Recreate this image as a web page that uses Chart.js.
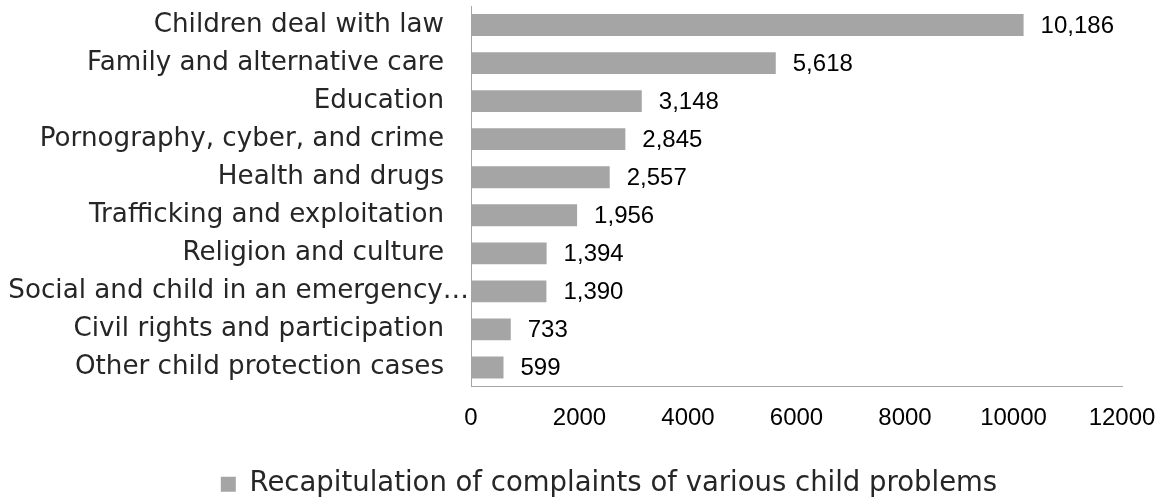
<!DOCTYPE html>
<html>
<head>
<meta charset="utf-8">
<script src="https://cdn.jsdelivr.net/npm/chart.js@4/dist/chart.umd.min.js"></script>
<style>
  html, body { margin: 0; padding: 0; background: #ffffff; }
  #wrap { width: 1164px; height: 502px; position: relative; }
</style>
</head>
<body>
<div id="wrap"><canvas id="c" width="1164" height="502"></canvas></div>
<script>
const categories = [
  "Children deal with law",
  "Family and alternative care",
  "Education",
  "Pornography, cyber, and crime",
  "Health and drugs",
  "Trafficking and exploitation",
  "Religion and culture",
  "Social and child in an emergency…",
  "Civil rights and participation",
  "Other child protection cases"
];
const complaints = [10186, 5618, 3148, 2845, 2557, 1956, 1394, 1390, 733, 599];
const seriesName = "Recapitulation of complaints of various child problems";
const xTicks = [0, 2000, 4000, 6000, 8000, 10000, 12000];

const catFont = "'DejaVu Sans', sans-serif";
const numFont = "'Liberation Sans', Arial, sans-serif";

const valueLabels = {
  id: 'valueLabels',
  afterDatasetsDraw(chart) {
    const ctx = chart.ctx;
    const meta = chart.getDatasetMeta(0);
    ctx.save();
    ctx.font = "24px " + numFont;
    ctx.fillStyle = "#000000";
    ctx.textAlign = "left";
    ctx.textBaseline = "middle";
    meta.data.forEach((bar, i) => {
      ctx.fillText(complaints[i].toLocaleString('en-US'), bar.x + 17, bar.y + 1);
    });
    ctx.restore();
  }
};

const legendShift = {
  id: 'legendShift',
  afterLayout(chart) {
    const lg = chart.legend;
    if (lg) { lg.left += 48; lg.right += 48; lg.top += 6; lg.bottom += 6; }
  }
};

new Chart(document.getElementById('c'), {
  type: 'bar',
  data: {
    labels: categories,
    datasets: [{
      label: seriesName,
      data: complaints,
      backgroundColor: '#a5a5a5',
      borderWidth: 0,
      barPercentage: 0.575,
      categoryPercentage: 1.0
    }]
  },
  options: {
    indexAxis: 'y',
    responsive: false,
    animation: false,
    devicePixelRatio: 1,
    layout: { padding: { left: 0, right: 42, top: 6, bottom: 0 } },
    scales: {
      x: {
        min: 0, max: 12000,
        afterBuildTicks(scale) { scale.ticks = xTicks.map(v => ({ value: v })); },
        afterFit(scale) {
          scale.height = 71;
          scale.paddingLeft = 0;
          scale.paddingRight = 0;
        },
        grid: { display: false, drawTicks: false },
        border: { display: true, color: '#a6a6a6', width: 1 },
        ticks: {
          padding: 17,
          color: '#000000',
          font: { family: numFont, size: 24 },
          maxRotation: 0,
          callback: (v) => String(v)
        }
      },
      y: {
        afterFit(scale) {
          scale.width = 471;
          scale.paddingTop = 0;
          scale.paddingBottom = 0;
        },
        grid: { display: false, drawTicks: false },
        border: { display: true, color: '#a6a6a6', width: 1 },
        ticks: {
          autoSkip: false,
          padding: 2,
          color: '#262626',
          font: { family: catFont, size: 26.2 },
          callback: function (v) {
            const lbl = this.getLabelForValue(v);
            return lbl.endsWith('…') ? lbl : lbl + '   ';
          }
        }
      }
    },
    plugins: {
      legend: {
        position: 'bottom',
        labels: {
          boxWidth: 15,
          boxHeight: 15,
          padding: 7,
          color: '#262626',
          font: { family: catFont, size: 27.5 }
        }
      },
      tooltip: { enabled: false }
    }
  },
  plugins: [valueLabels, legendShift]
});
</script>
</body>
</html>
